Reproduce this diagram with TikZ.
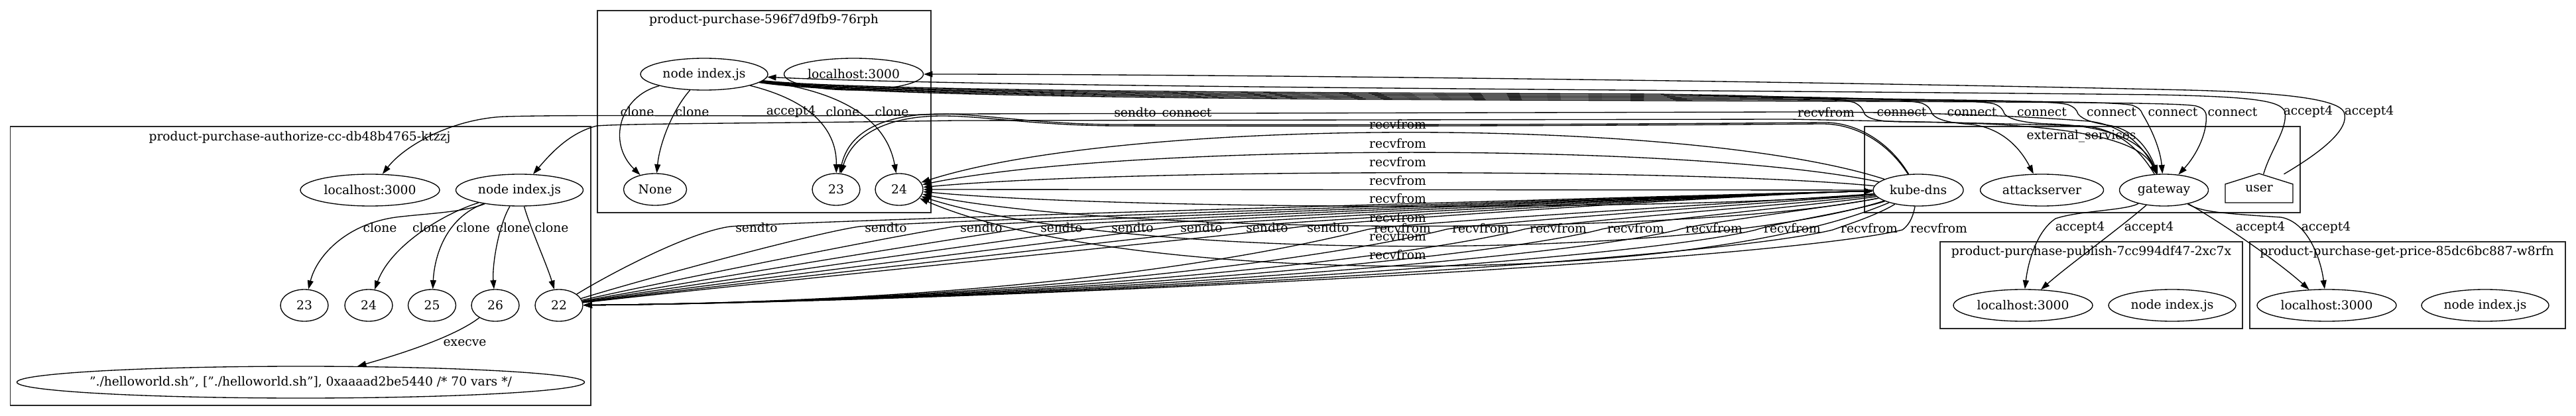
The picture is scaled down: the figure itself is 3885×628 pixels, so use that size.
\documentclass[tikz,border=0pt]{standalone}
\usepackage{fontspec}
\setmainfont{DejaVu Serif}
\usetikzlibrary{shapes.geometric,arrows.meta}
\begin{document}
\begin{tikzpicture}[x=1pt,y=-1pt,
  font=\fontsize{18.67pt}{22pt}\selectfont,
  gl/.style={line width=1.33pt},
  edg/.style={gl,-{Triangle[length=13.3pt,width=9pt]}},
  nd/.style={draw,ellipse,gl,minimum height=48pt,inner ysep=0pt,inner xsep=-20pt},
  lb/.style={inner sep=0pt},
  clus/.style={draw=black!85,gl}]
\useasboundingbox (0,0) rectangle (3885,628);

% clusters
\draw[clus] (15.5,191) rectangle (891,612);
\node[lb] (tA) at (452,207) {product-purchase-authorize-cc-db48b4765-ktzzj};
\draw[clus] (901,16) rectangle (1404,321);
\node[lb] (tP) at (1152,30) {product-purchase-596f7d9fb9-76rph};
\draw[clus] (2812,191) rectangle (3469,321);
\node[lb] (tE) at (3139,206) {external\_services};
\draw[clus] (2926,365) rectangle (3382,496);
\node[lb] (tPub) at (3154,380) {product-purchase-publish-7cc994df47-2xc7x};
\draw[clus] (3393,365) rectangle (3869,496);
\node[lb] (tG) at (3630,380) {product-purchase-get-price-85dc6bc887-w8rfn};

% authorize nodes
\node[nd,minimum width=210pt] (lhA) at (558,287) {localhost:3000};
\node[nd,minimum width=192pt] (nidxA) at (783.5,287) {node index.js};
\node[nd,minimum width=72pt] (a23) at (459,461) {23};
\node[nd,minimum width=72pt] (a24) at (556,461) {24};
\node[nd,minimum width=72pt] (a25) at (651.5,461) {25};
\node[nd,minimum width=72pt] (a26) at (747,461) {26};
\node[nd,minimum width=72pt] (a22) at (843,461) {22};
\node[nd,minimum width=856pt] (hello) at (453.5,577) {"./helloworld.sh", ["./helloworld.sh"], 0xaaaad2be5440 /* 70 vars */};

% purchase nodes
\node[nd,minimum width=192pt] (nidxP) at (1062,112) {node index.js};
\node[nd,minimum width=210pt] (lhP) at (1287.5,112) {localhost:3000};
\node[nd,minimum width=95pt] (noneP) at (988,286) {None};
\node[nd,minimum width=72pt] (p23) at (1261,286) {23};
\node[nd,minimum width=72pt] (p24) at (1356,286) {24};

% external services
\node[nd,minimum width=136pt] (kube) at (2893,287) {kube-dns};
\node[nd,minimum width=186pt] (attack) at (3079.5,287) {attackserver};
\node[nd,minimum width=134pt] (gateway) at (3263.5,287) {gateway};
\node[inner sep=0pt,minimum width=102pt,minimum height=44pt] (user) at (3407,285) {user};
\draw[gl] (3356,306) -- (3356,278) -- (3407,262) -- (3458,278) -- (3458,306) -- cycle;

% publish / get-price
\node[nd,minimum width=210pt] (lhPub) at (3051,461) {localhost:3000};
\node[nd,minimum width=192pt] (nidxPub) at (3276,461) {node index.js};
\node[nd,minimum width=210pt] (lhG) at (3509,461) {localhost:3000};
\node[nd,minimum width=192pt] (nidxG) at (3748,461) {node index.js};

% authorize edges
\draw[edg] (nidxA) .. controls (700,320) and (650,322) .. (605,327) .. controls (525,335) and (478,385) .. (a23);
\draw[edg] (nidxA) .. controls (670,322) and (590,370) .. (a24);
\draw[edg] (nidxA) .. controls (670,330) and (655,390) .. (a25);
\draw[edg] (nidxA) .. controls (752,340) and (742,400) .. (a26);
\draw[edg] (nidxA) .. controls (800,345) and (825,400) .. (a22);
\draw[edg] (a26) .. controls (690,505) and (620,530) .. (hello);

% purchase internal edges
\draw[edg] (nidxP) .. controls (935,145) and (915,215) .. (noneP);
\draw[edg] (nidxP) .. controls (1015,165) and (995,215) .. (noneP);
\draw[edg] (nidxP) .. controls (1215,150) and (1262,190) .. (p23);
\draw[edg] (nidxP) .. controls (1250,135) and (1335,170) .. (p24);

% kube-dns -> 23
\draw[edg] (kube) .. controls (2850,215) and (2800,184) .. (2750,185) .. controls (2400,188) and (2000,189) .. (1680,188) .. controls (1560,187) and (1480,172) .. (1420,172) .. controls (1330,172) and (1280,200) .. (p23);
\draw[edg] (kube) .. controls (2845,212) and (2795,186) .. (2745,187) .. controls (2400,190) and (2000,191) .. (1680,190) .. controls (1560,189) and (1482,175) .. (1422,175) .. controls (1335,175) and (1285,205) .. (p23);

% gateway -> authorize
\draw[edg] (gateway) .. controls (3235,220) and (3200,188) .. (3150,183) .. controls (3050,175) and (2900,169) .. (2700,169) -- (1440,172) .. controls (1200,178) and (900,172) .. (760,176) .. controls (680,180) and (610,220) .. (lhA);
\draw[edg] (gateway) .. controls (3225,222) and (3190,193) .. (3140,190) .. controls (3000,186) and (2850,183) .. (2700,180) -- (1440,182) .. controls (1200,186) and (950,186) .. (900,190) .. controls (860,200) and (832,230) .. (nidxA);

% connect edges
\draw[edg] (nidxP) .. controls (1300,138) and (2000,140) .. (2500,142) .. controls (2612,144) and (2772,146) .. (2797,155) .. controls (2807,160) and (2810,166) .. (2812,172) .. controls (2820,183) and (2850,184) .. (2880,184) .. controls (3100,186) and (3225,205) .. (gateway);
\draw[edg] (nidxP) .. controls (1300,140) and (2000,142) .. (2500,144) .. controls (2714,146) and (2874,148) .. (2899,156) .. controls (2909,160) and (2912,166) .. (2914,172) .. controls (2922,182) and (2945,186) .. (2975,188) .. controls (3025,195) and (3050,230) .. (attack);
\draw[edg] (nidxP) .. controls (1300,142) and (2000,144) .. (2500,146) .. controls (2823,148) and (2983,150) .. (3008,157) .. controls (3018,161) and (3021,166) .. (3023,172) .. controls (3032,182) and (3060,186) .. (3090,187) .. controls (3180,190) and (3232,212) .. (gateway);
\draw[edg] (nidxP) .. controls (1300,144) and (2000,146) .. (2500,148) .. controls (2934,150) and (3094,151) .. (3119,158) .. controls (3129,162) and (3132,166) .. (3134,172) .. controls (3142,182) and (3160,186) .. (3185,190) .. controls (3220,198) and (3240,225) .. (gateway);
\draw[edg] (nidxP) .. controls (1300,146) and (2000,148) .. (2500,150) .. controls (3031,152) and (3191,153) .. (3216,159) .. controls (3226,163) and (3229,166) .. (3231,172) .. controls (3245,195) and (3258,225) .. (gateway);
\draw[edg] (nidxP) .. controls (1300,148) and (2000,150) .. (2500,152) .. controls (3127,154) and (3287,155) .. (3312,160) .. controls (3322,163) and (3325,166) .. (3327,172) .. controls (3330,200) and (3312,235) .. (gateway);

% user edges
\draw[edg] (user) .. controls (3500,230) and (3545,195) .. (3535,169) .. controls (3525,150) and (3450,140) .. (3300,136) .. controls (2700,122) and (1800,112) .. (lhP);
\draw[edg] (user) .. controls (3425,225) and (3450,195) .. (3446,169) .. controls (3440,152) and (3400,146) .. (3250,143) .. controls (2500,135) and (1500,132) .. (nidxP);

% kube-dns -> 24 arcs
\foreach \h in {176,215,254,318,356,395,434}
  \draw[edg] (kube) .. controls (2550,\h) and (1700,\h) .. (p24);
\draw[edg] (kube) -- (p24);

% 22 -> kube-dns (sendto)
\foreach \L in {1141,1336,1480,1601,1708,1812,1911,2003}
  \draw[edg] (a22) .. controls ({900+(\L-1141)*0.3},425) and ({\L-110},352) .. ({\L-40},342) .. controls ({\L+60},333) and (2650,292) .. (kube);

% kube-dns -> 22 (recvfrom)
\foreach \L/\ax/\ay/\bx in {2115/2760/298/2085, 2233/2762/300/2203, 2350/2765/303/2320, 2467/2770/306/2437, 2585/2780/310/2555, 2703/2800/318/2673, 2819/2830/325/2789, 2924/2886/322/2882}
  \draw[edg] (kube) .. controls (\ax,\ay) and (\bx,338) .. ({\L-55},347) .. controls ({\L-250},395) and (1500,455) .. (a22);

% gateway -> publish / get-price
\draw[edg] (gateway) .. controls (3205,318) and (3135,318) .. (3100,330) .. controls (3070,350) and (3058,400) .. (lhPub);
\draw[edg] (gateway) .. controls (3190,350) and (3120,400) .. (lhPub);
\draw[edg] (gateway) .. controls (3340,330) and (3430,390) .. (lhG);
\draw[edg] (gateway) .. controls (3320,320) and (3350,322) .. (3440,328) .. controls (3480,335) and (3500,390) .. (lhG);

% labels
\node[lb] (l1) at (573,344) {clone};
\node[lb] (l2) at (647.5,344) {clone};
\node[lb] (l3) at (713.5,344) {clone};
\node[lb] (l4) at (774,344) {clone};
\node[lb] (l5) at (832,344) {clone};
\node[lb] (l6) at (701,518) {execve};
\node[lb] (l7) at (961,169) {clone};
\node[lb] (l8) at (1044,169) {clone};
\node[lb] (l9) at (1193,169) {accept4};
\node[lb] (l10) at (1271,169) {clone};
\node[lb] (l11) at (1345,169) {clone};
\node[lb] (l12) at (1712,170) {sendto};
\node[lb] (l13) at (1790,170) {connect};
\node[lb] (l14) at (2754,170) {recvfrom};
\foreach \x [count=\i] in {2868,2974,3079.5,3184.5,3277,3367}
  \node[lb] (cn\i) at (\x,169) {connect};
\node[lb] (l15) at (3481,169) {accept4};
\node[lb] (l16) at (3573,169) {accept4};
\foreach \y [count=\i] in {188,217,245,273,300,329,357,385}
  \node[lb] (rs\i) at (2108,\y) {recvfrom};
\foreach \x [count=\i] in {1141,1336,1480,1601,1708,1812,1911,2003}
  \node[lb] (sd\i) at (\x,344) {sendto};
\foreach \x [count=\i] in {2115,2233,2350,2467,2585,2703,2819,2924}
  \node[lb] (rv\i) at (\x,345) {recvfrom};
\foreach \x [count=\i] in {3137,3241,3409,3508}
  \node[lb] (ac\i) at (\x,344) {accept4};
\end{tikzpicture}
\end{document}
